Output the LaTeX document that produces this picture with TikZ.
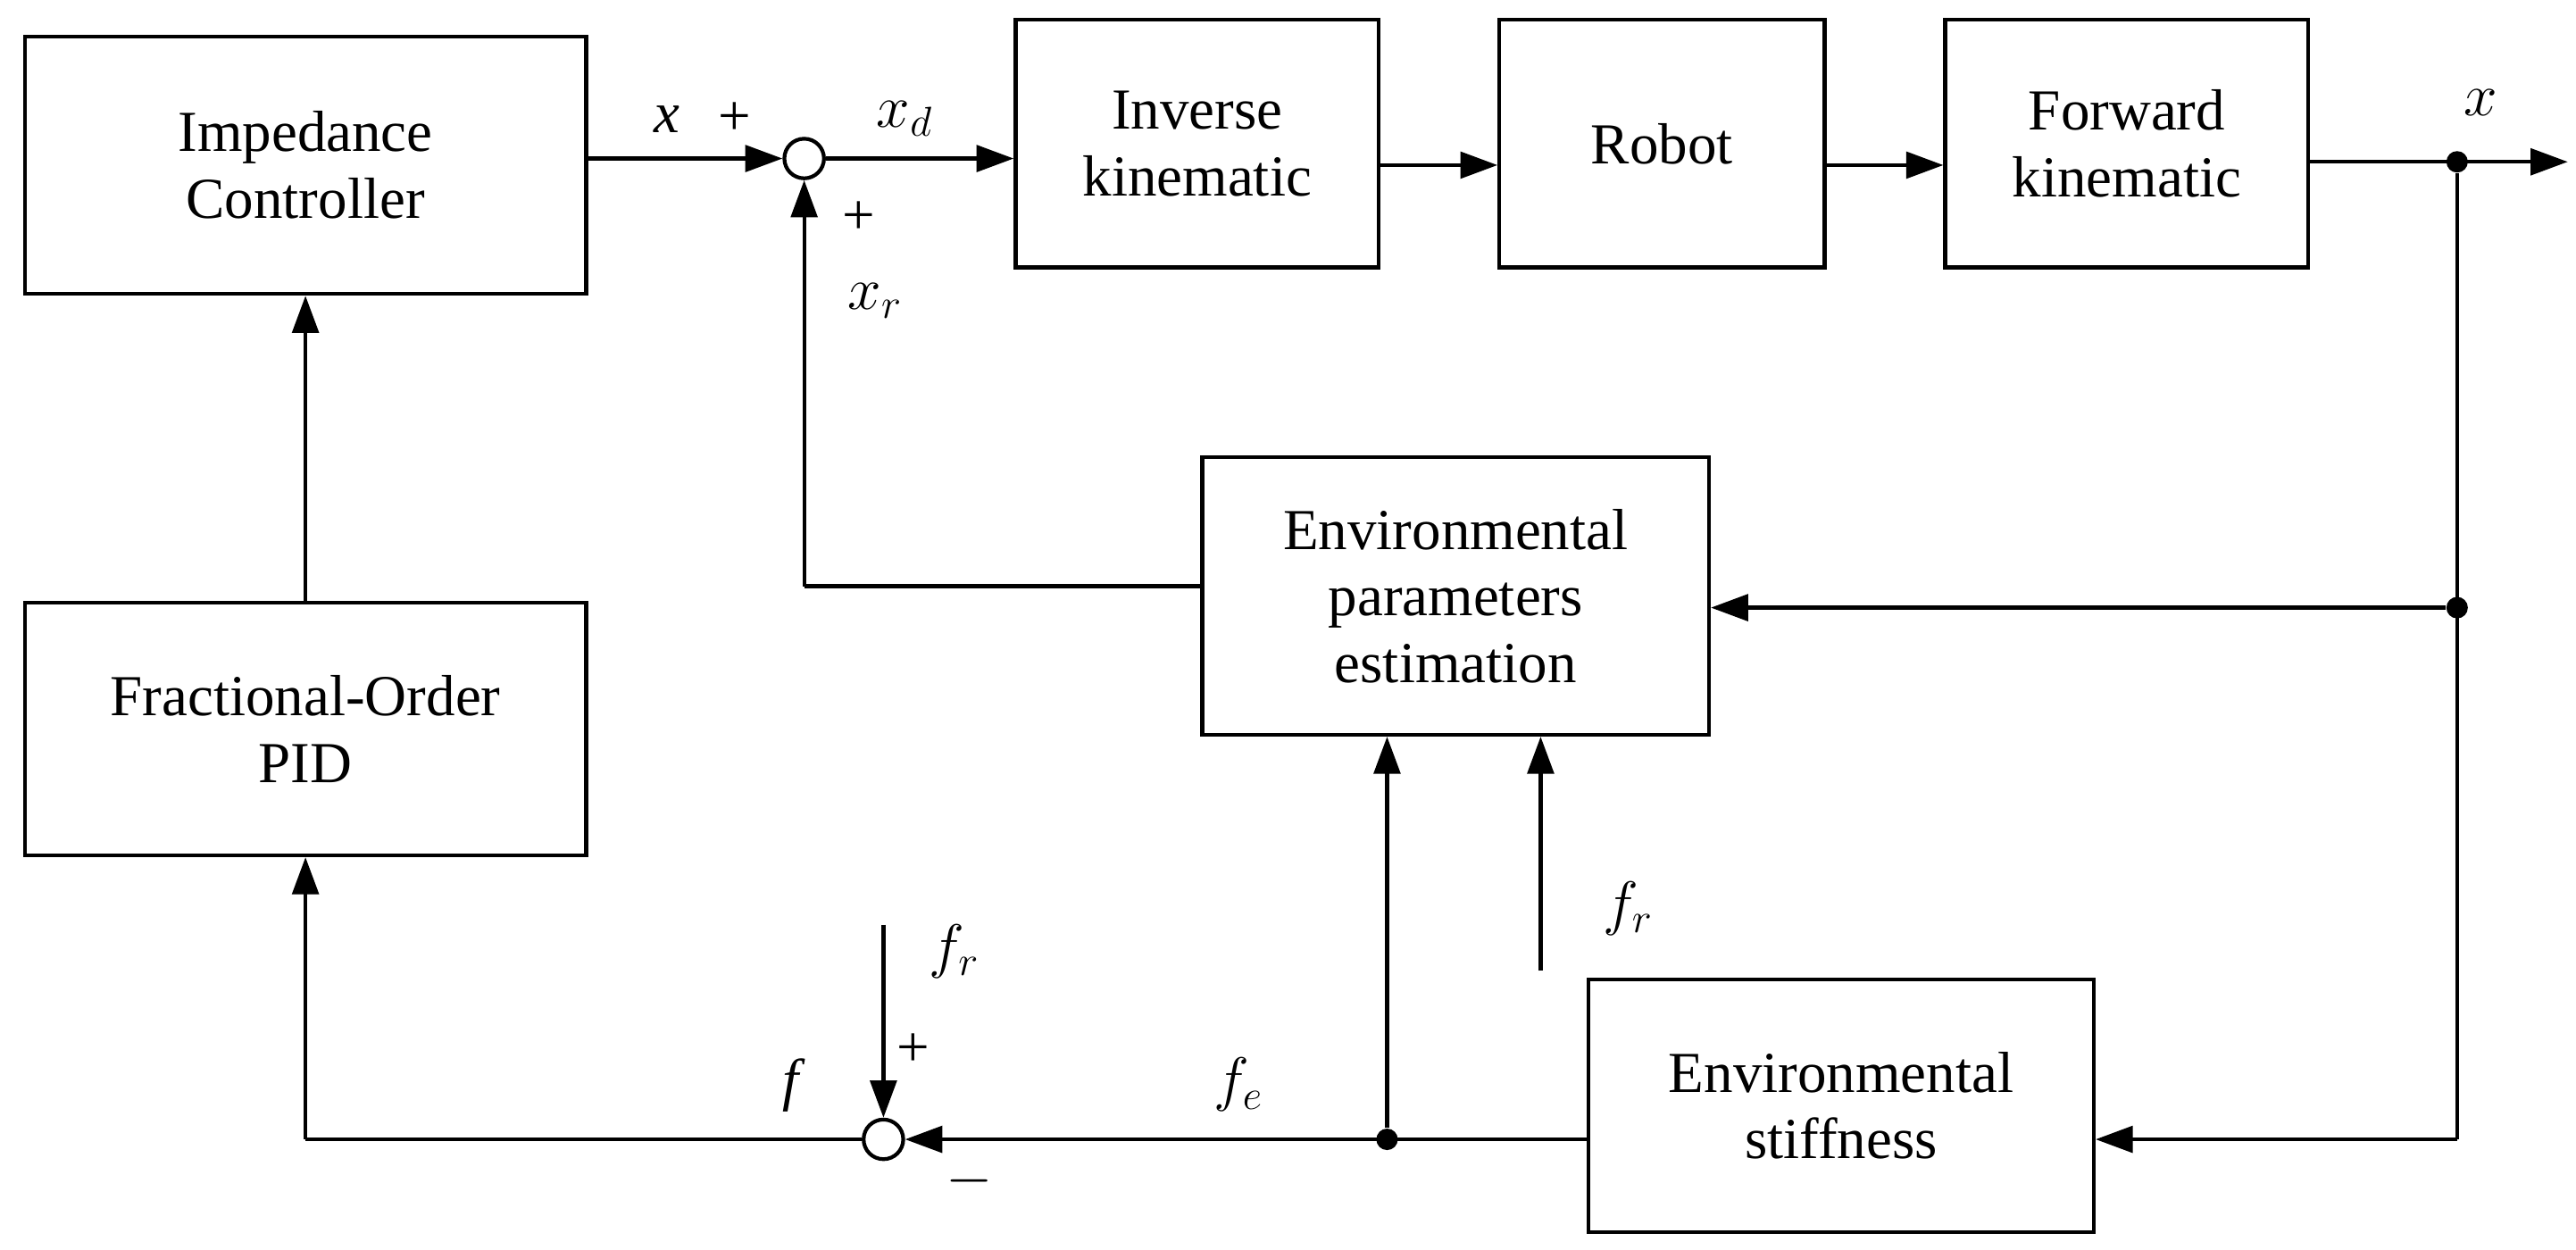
\documentclass[tikz,border=0pt]{standalone}
\usepackage{fontspec}
\setmainfont{Liberation Serif}
\usetikzlibrary{arrows.meta}
\begin{document}
\begin{tikzpicture}[x=0.02cm,y=-0.02cm,
  blk/.style={draw,line width=1.3pt,inner sep=0pt,font=\fontsize{20}{23}\selectfont,align=center},
  sj/.style={draw,circle,line width=1.3pt,minimum size=0.48cm,inner sep=0pt},
  ln/.style={line width=1.3pt},
  ar/.style={ln,-{Triangle[length=0.45cm,width=0.32cm]}},
  dot/.style={circle,fill,inner sep=0pt,minimum size=0.26cm},
  lb/.style={font=\fontsize{20}{23}\selectfont}]
\useasboundingbox (0,0) rectangle (1560,756.5);
\node[blk,minimum width=6.8cm,minimum height=3.12cm] (ic) at (185,100) {Impedance\\Controller};
\node[blk,minimum width=6.8cm,minimum height=3.06cm] (pid) at (185,441.5) {Fractional-Order\\PID};
\node[blk,minimum width=4.4cm,minimum height=3.0cm] (ik) at (725,87) {Inverse\\kinematic};
\node[blk,minimum width=3.94cm,minimum height=3.0cm] (rob) at (1006.5,87) {Robot};
\node[blk,minimum width=4.4cm,minimum height=3.0cm] (fk) at (1288,87) {Forward\\kinematic};
\node[blk,minimum width=6.14cm,minimum height=3.36cm] (epe) at (881.5,361) {Environmental\\parameters\\estimation};
\node[blk,minimum width=6.12cm,minimum height=3.06cm] (es) at (1115,669.5) {Environmental\\stiffness};
\node[sj] (s1) at (487,96) {};
\node[sj] (s2) at (535,690) {};
\node[dot] (d1) at (1488,98) {};
\node[dot] (d2) at (1488,368) {};
\node[dot] (d3) at (840,690) {};
\coordinate (xo) at (1555,98);
\coordinate (c4) at (1488,690);
\coordinate (fr1) at (933,588);
\coordinate (fr2) at (535,560);
\coordinate (c5) at (487,355);
\coordinate (c6) at (185,690);
\draw[ar] (ic.east|-s1) -- (s1);
\draw[ar] (s1) -- (ik.west|-s1);
\draw[ar] (ik.east|-0,100) -- (rob.west|-0,100);
\draw[ar] (rob.east|-0,100) -- (fk.west|-0,100);
\draw[ar] (fk.east|-d1) -- (xo);
\draw[ln] (d1) -- (c4);
\draw[ar] (d2) -- (epe.east|-d2);
\draw[ar] (c4) -- (es.east|-c4);
\draw[ar] (es.west|-s2) -- (s2);
\draw[ar] (d3) -- (d3|-epe.south);
\draw[ar] (fr1) -- (fr1|-epe.south);
\draw[ln] (epe.west|-c5) -- (c5);
\draw[ar] (c5) -- (s1);
\draw[ln] (s2) -- (c6);
\draw[ar] (c6) -- (pid.south);
\draw[ar] (pid.north) -- (ic.south);
\draw[ar] (fr2) -- (s2);
\node[lb] at (390,72) {$\mathit{\Delta x}$};
\node[lb] at (445,72) {+};
\node[lb] at (548,72) {$x_d$};
\node[lb] at (520,132) {+};
\node[lb] at (530,182) {$x_r$};
\node[lb] at (1502,62) {$x$};
\node[lb] at (578,576) {$f_r$};
\node[lb] at (553,636) {+};
\node[lb] at (465,657) {$\mathit{\Delta f}$};
\node[lb] at (587,715) {$-$};
\node[lb] at (750,657) {$f_e$};
\node[lb] at (986,550) {$f_r$};
\end{tikzpicture}
\end{document}
